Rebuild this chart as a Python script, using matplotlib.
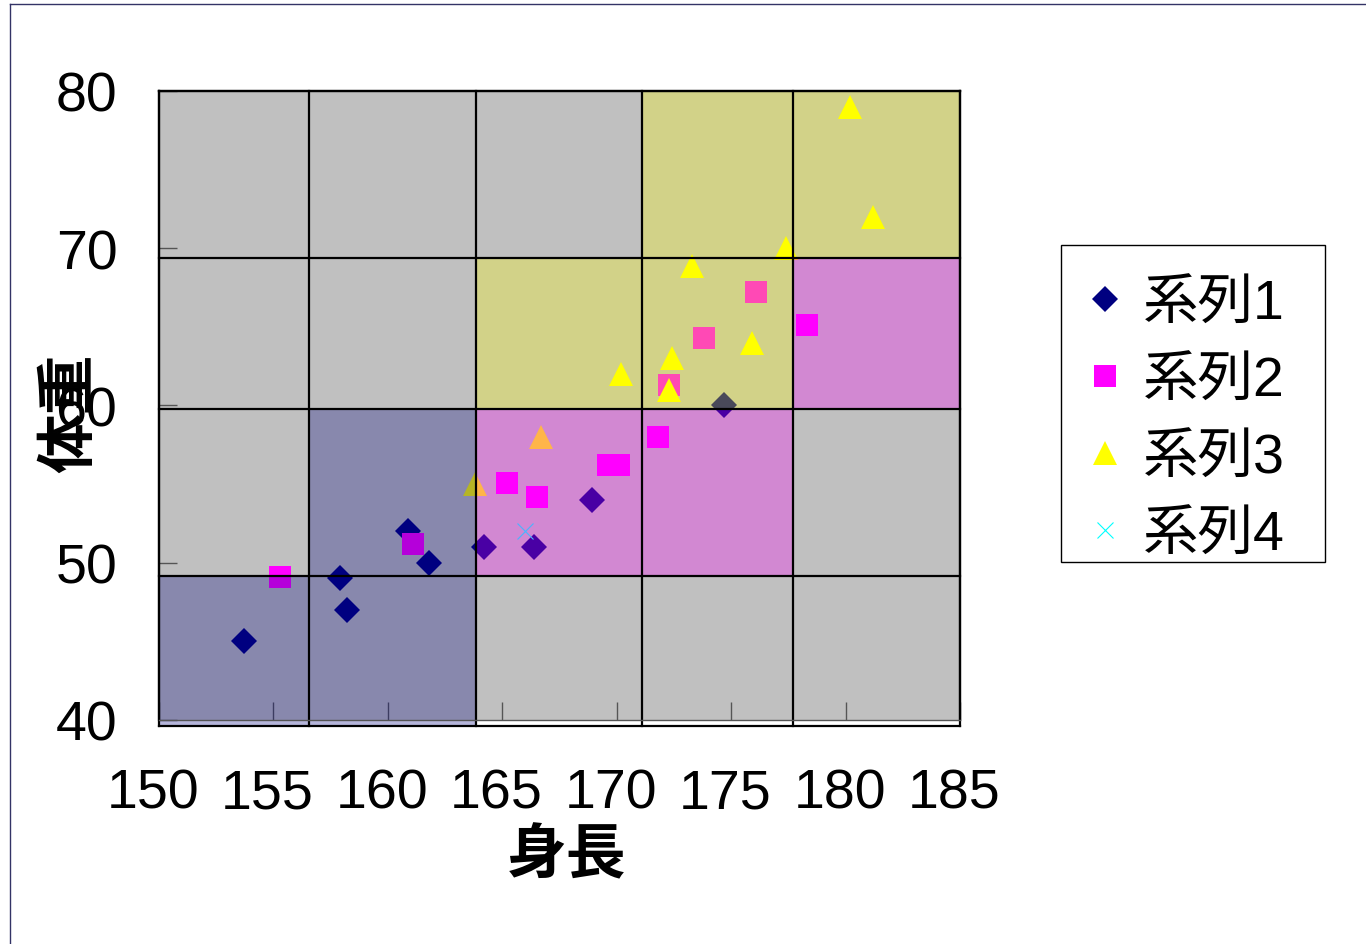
import matplotlib
matplotlib.use('Agg')
import matplotlib.pyplot as plt
from matplotlib.patches import Rectangle
from matplotlib.lines import Line2D
from matplotlib.transforms import ScaledTranslation

plt.rcParams['font.family'] = ['Liberation Sans', 'Noto Sans CJK JP']

# 身長(cm)・体重(kg)
s1_x = [153.7, 157.9, 158.2, 160.9, 161.8, 164.2, 166.4, 168.9, 174.7]
s1_y = [45.0, 49.0, 47.0, 52.0, 50.0, 51.0, 51.0, 54.0, 60.0]
s2_x = [155.3, 161.1, 165.2, 166.5, 169.6, 170.1, 171.8, 172.3, 173.8, 176.1, 178.3]
s2_y = [49.1, 51.2, 55.1, 54.2, 56.2, 56.2, 58.0, 61.3, 64.3, 67.2, 65.1]
s3_x = [163.8, 166.7, 170.2, 172.4, 172.3, 173.3, 175.9, 177.4, 180.2, 181.2]
s3_y = [55.0, 58.0, 62.0, 63.0, 61.0, 68.9, 64.0, 70.0, 79.0, 72.0]
s4_x = [166.0]
s4_y = [52.0]
series_names = ['系列1', '系列2', '系列3', '系列4']

# background zones (rows from the bottom up)
x_edges = [150, 156.55, 163.85, 171.1, 177.7, 185]
y_edges = [39.6, 49.15, 59.75, 69.4, 80]
zones = [
    ['b', 'b', None, None, None],
    [None, 'b', 'p', 'p', None],
    [None, None, 'y', 'y', 'p'],
    [None, None, None, 'y', 'y'],
]
zone_colors = {'b': '#000080', 'p': '#FF00FF', 'y': '#FFFF00'}

W, H = 1366, 945
fig = plt.figure(figsize=(W / 100, H / 100), dpi=100)
ax = fig.add_axes([159 / W, 1 - 721 / H, (960 - 159) / W, (721 - 92) / H])
ax.set_facecolor('#C0C0C0')
ax.set_xlim(150, 185)
ax.set_ylim(40, 80)

ax.plot(s1_x, s1_y, 'D', ms=13, color='#000080', mew=0, zorder=2, label=series_names[0])
ax.plot(s2_x, s2_y, 's', ms=16, color='#FF00FF', mew=0, zorder=2, label=series_names[1])
ax.plot(s3_x, s3_y, '^', ms=17.5, color='#FFFF00', mew=0, zorder=2, label=series_names[2])
ax.plot(s4_x, s4_y, 'x', ms=11, color='#00FFFF', mew=0.8, zorder=2, label=series_names[3])

# translucent zones go over the points
for i, row in enumerate(zones):
    for j, c in enumerate(row):
        if c is None:
            continue
        ax.add_patch(Rectangle((x_edges[j], y_edges[i]),
                               x_edges[j + 1] - x_edges[j], y_edges[i + 1] - y_edges[i],
                               facecolor=zone_colors[c], alpha=0.29, lw=0,
                               zorder=2.2, clip_on=False))

for x in x_edges:
    ax.plot([x, x], [y_edges[0], y_edges[-1]], color='black', lw=1.6, zorder=2.3, clip_on=False)
for y in y_edges:
    ax.plot([x_edges[0], x_edges[-1]], [y, y], color='black', lw=1.6, zorder=2.3, clip_on=False)

for side in ['left', 'right', 'top']:
    ax.spines[side].set_color('black')
    ax.spines[side].set_linewidth(1.6)
ax.spines['bottom'].set_color('#555555')
ax.spines['bottom'].set_linewidth(1.0)

ax.set_xticks(range(150, 186, 5))
ax.set_yticks(range(40, 81, 10))
ax.tick_params(direction='in', length=13, width=1, color='#555555', labelsize=40)
ax.tick_params(axis='x', pad=34)
ax.tick_params(axis='y', pad=30)
for lbl in ax.get_xticklabels():
    lbl.set_transform(lbl.get_transform() + ScaledTranslation(-0.06, 0, fig.dpi_scale_trans))

fig.text(72 / W, 1 - 413 / H, '体重', rotation=90, fontsize=43, fontweight='bold',
         ha='center', va='center')
fig.text(567 / W, 1 - 857 / H, '身長', fontsize=43, fontweight='bold',
         ha='center', va='center')

# legend entries, with the box drawn separately
ax.legend(loc='upper left', bbox_to_anchor=(1061 / W, 1 - 246 / H),
          bbox_transform=fig.transFigure, fontsize=40, frameon=False,
          borderpad=0.6, labelspacing=0.45, handlelength=0.4, handletextpad=0.47,
          borderaxespad=0, numpoints=1)
fig.add_artist(Rectangle((1061 / W, 1 - 563 / H), (1325 - 1061) / W, (563 - 246) / H,
                         transform=fig.transFigure, facecolor='none',
                         edgecolor='black', lw=1.0))

# chart area border
fig.add_artist(Line2D([10 / W, 10 / W], [0, 1 - 5 / H], transform=fig.transFigure,
                      color='#333366', lw=1))
fig.add_artist(Line2D([10 / W, 1], [1 - 5 / H, 1 - 5 / H], transform=fig.transFigure,
                      color='#333366', lw=1))

fig.savefig('out.png', dpi=100)
